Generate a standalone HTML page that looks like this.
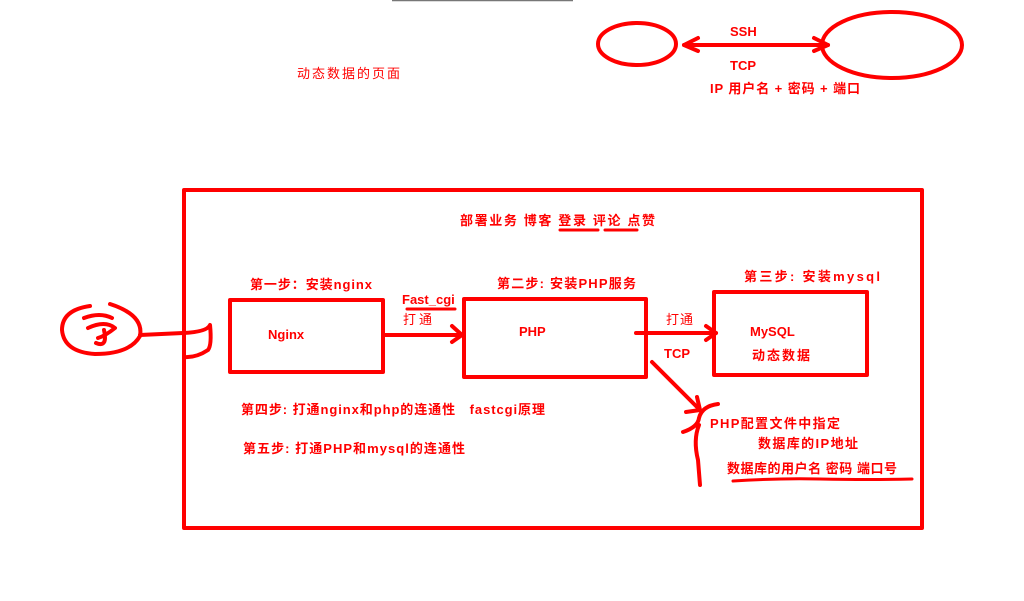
<!DOCTYPE html>
<html><head><meta charset="utf-8"><style>
html,body{margin:0;padding:0;background:#fff;width:1024px;height:601px;overflow:hidden}
svg{display:block}
text{font-family:"Liberation Sans","Noto Sans CJK SC",sans-serif;font-size:13px;fill:#f00;font-weight:bold}
</style></head><body>
<svg width="1024" height="601" viewBox="0 0 1024 601">
<line x1="392" y1="0.5" x2="573" y2="0.5" stroke="#777" stroke-width="1.5"/>
<g fill="none" stroke="#f00" stroke-linecap="round" stroke-linejoin="round">
<ellipse cx="637" cy="44" rx="39" ry="21" stroke-width="4"/>
<ellipse cx="892" cy="45" rx="70" ry="33" stroke-width="4"/>
<line x1="684" y1="45" x2="828" y2="45" stroke-width="4"/>
<polyline points="698,38 684,45 698,51" stroke-width="4"/>
<polyline points="814,38 828,45 814,51" stroke-width="4"/>
<rect x="184" y="190" width="738" height="338" stroke-width="4"/>
<rect x="230" y="300" width="153" height="72" stroke-width="4"/>
<rect x="464" y="299" width="182" height="78" stroke-width="4"/>
<rect x="714" y="292" width="153" height="83" stroke-width="4"/>
<line x1="383" y1="335" x2="462" y2="335" stroke-width="4"/>
<polyline points="452,326 462,335 452,342" stroke-width="4"/>
<line x1="636" y1="333" x2="716" y2="333" stroke-width="4"/>
<polyline points="706,326 716,333 706,340" stroke-width="4"/>
<line x1="652" y1="362" x2="698" y2="408" stroke-width="4"/>
<path d="M697,397 L700,410 L686,412" stroke-width="4"/>
<path d="M718,404 Q702,406 699,418 Q698,427 683,432 M699,425 Q693,440 698,460 L700,485" stroke-width="4"/>
<path d="M733,481 Q780,478 820,479 Q870,480 912,479" stroke-width="3"/>
<path d="M407,309 L455,309" stroke-width="3"/>
<path d="M560,230 L598,230 M605,230 L637,230" stroke-width="3"/>
<path d="M90,306 Q62,310 62,330 Q64,352 95,354 Q130,354 140,336 Q144,315 110,304" stroke-width="4"/>
<path d="M84,318 Q100,312 112,318 M88,328 Q105,320 115,328 Q105,336 98,338 M96,343 Q108,348 104,330" stroke-width="4"/>
<path d="M140,335 L183,333 Q207,332 210,325 Q212,345 208,350 Q196,358 184,357" stroke-width="4"/>
</g>
<text x="297" y="78" style="font-weight:normal" textLength="103" lengthAdjust="spacing">动态数据的页面</text>
<text x="730" y="36">SSH</text>
<text x="730" y="70">TCP</text>
<text x="710" y="93" textLength="150" lengthAdjust="spacing">IP 用户名 + 密码 + 端口</text>
<text x="460" y="225" textLength="195" lengthAdjust="spacing">部署业务 博客 登录 评论 点赞</text>
<text x="250" y="289" textLength="122" lengthAdjust="spacing">第一步：安装nginx</text>
<text x="497" y="288" textLength="139" lengthAdjust="spacing">第二步: 安装PHP服务</text>
<text x="744" y="281" textLength="136" lengthAdjust="spacing">第三步: 安装mysql</text>
<text x="402" y="304">Fast_cgi</text>
<text x="403" y="324" style="font-weight:normal" textLength="29" lengthAdjust="spacing">打通</text>
<text x="268" y="339">Nginx</text>
<text x="519" y="336">PHP</text>
<text x="666" y="324" style="font-weight:normal" textLength="27" lengthAdjust="spacing">打通</text>
<text x="664" y="358">TCP</text>
<text x="750" y="336">MySQL</text>
<text x="752" y="360" textLength="58" lengthAdjust="spacing">动态数据</text>
<text x="241" y="414" xml:space="preserve" textLength="304" lengthAdjust="spacing">第四步: 打通nginx和php的连通性   fastcgi原理</text>
<text x="243" y="453" textLength="222" lengthAdjust="spacing">第五步: 打通PHP和mysql的连通性</text>
<text x="710" y="428" textLength="130" lengthAdjust="spacing">PHP配置文件中指定</text>
<text x="758" y="448" textLength="100" lengthAdjust="spacing">数据库的IP地址</text>
<text x="727" y="473" textLength="170" lengthAdjust="spacing">数据库的用户名 密码 端口号</text>
</svg>
</body></html>
